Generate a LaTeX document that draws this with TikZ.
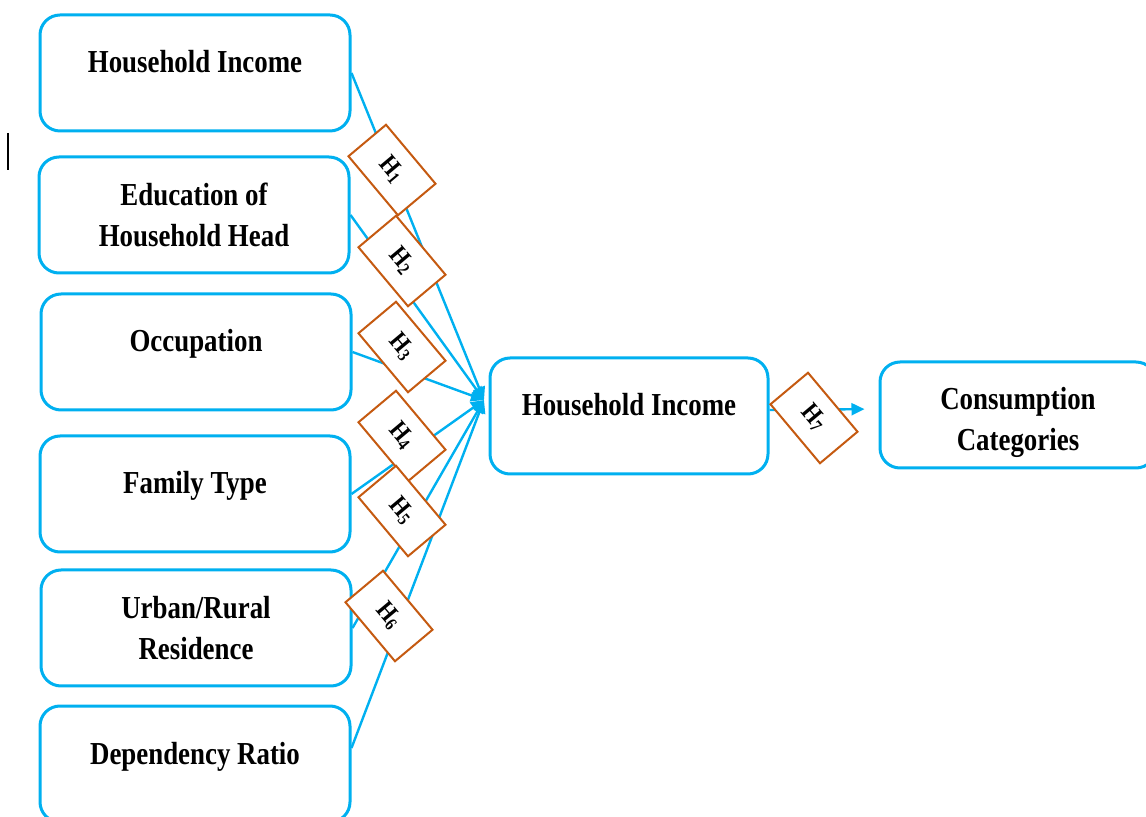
\documentclass[tikz,border=0pt]{standalone}
\usepackage{fontspec}
\setmainfont{Liberation Serif}[FakeStretch=0.84]
\usepackage{xcolor}
\usepackage{tikz}
\usetikzlibrary{arrows.meta}

\definecolor{linkblue}{HTML}{00B0F0}
\definecolor{hypbrown}{HTML}{C55A11}

\begin{document}
\begin{tikzpicture}[x=0.5pt, y=-0.5pt, >={Triangle[length=6.5pt,width=6pt]},
		factor/.style={draw=linkblue, line width=1.5pt, rounded corners=10pt, fill=white,
			minimum width=155pt, minimum height=58pt, align=center,
			font=\fontsize{16}{20.5}\selectfont\bfseries},
		oneline/.style={text height=8pt, text depth=8pt},
		hyp/.style={draw=hypbrown, line width=1pt, fill=white, rotate=-50, inner sep=0pt,
			minimum width=38.5pt, minimum height=24.5pt, font=\fontsize{13}{13}\selectfont\bfseries},
		link/.style={draw=linkblue, line width=1.2pt, ->}]
		\useasboundingbox (0,0) rectangle (1146,817);

		% factors on the left
		\node[factor, oneline] (inc) at (195,73) {Household Income};
		\node[factor] (edu) at (194,215) {Education of\\Household Head};
		\node[factor, oneline] (occ) at (196,352) {Occupation};
		\node[factor, oneline] (fam) at (195,494) {Family Type};
		\node[factor] (res) at (196,628) {Urban/Rural\\Residence};
		\node[factor, oneline] (dep) at (195,764) {Dependency Ratio};

		% middle and right
		\node[factor, oneline, minimum width=139pt] (mid) at (629,416) {Household Income};
		\node[factor, minimum width=138pt, minimum height=53pt, text height=40pt, text depth=4pt]
			(cons) at (1018,415) {Consumption\\Categories};

		\coordinate (hub) at (484,400);

		\path (inc.east) edge[link] (hub);
		\path (edu.east) edge[link] (hub);
		\path (occ.east) edge[link] (hub);
		\path (fam.east) edge[link] (hub);
		\path (res.east) edge[link] (hub);
		\path ([yshift=8pt]dep.east) edge[link] (hub);
		\path ([yshift=3pt]mid.east) edge[link, shorten >=7pt] ([yshift=3pt]cons.west);

		% hypotheses
		\node[hyp] (h1) at (392,170) {H\textsubscript{1}};
		\node[hyp] (h2) at (402,261) {H\textsubscript{2}};
		\node[hyp] (h3) at (402,347) {H\textsubscript{3}};
		\node[hyp] (h4) at (402,436) {H\textsubscript{4}};
		\node[hyp] (h5) at (402,511) {H\textsubscript{5}};
		\node[hyp] (h6) at (389,616) {H\textsubscript{6}};
		\node[hyp] (h7) at (814,418) {H\textsubscript{7}};

		\draw[line width=0.6pt] (8,133) -- (8,170);
	\end{tikzpicture}
\end{document}
